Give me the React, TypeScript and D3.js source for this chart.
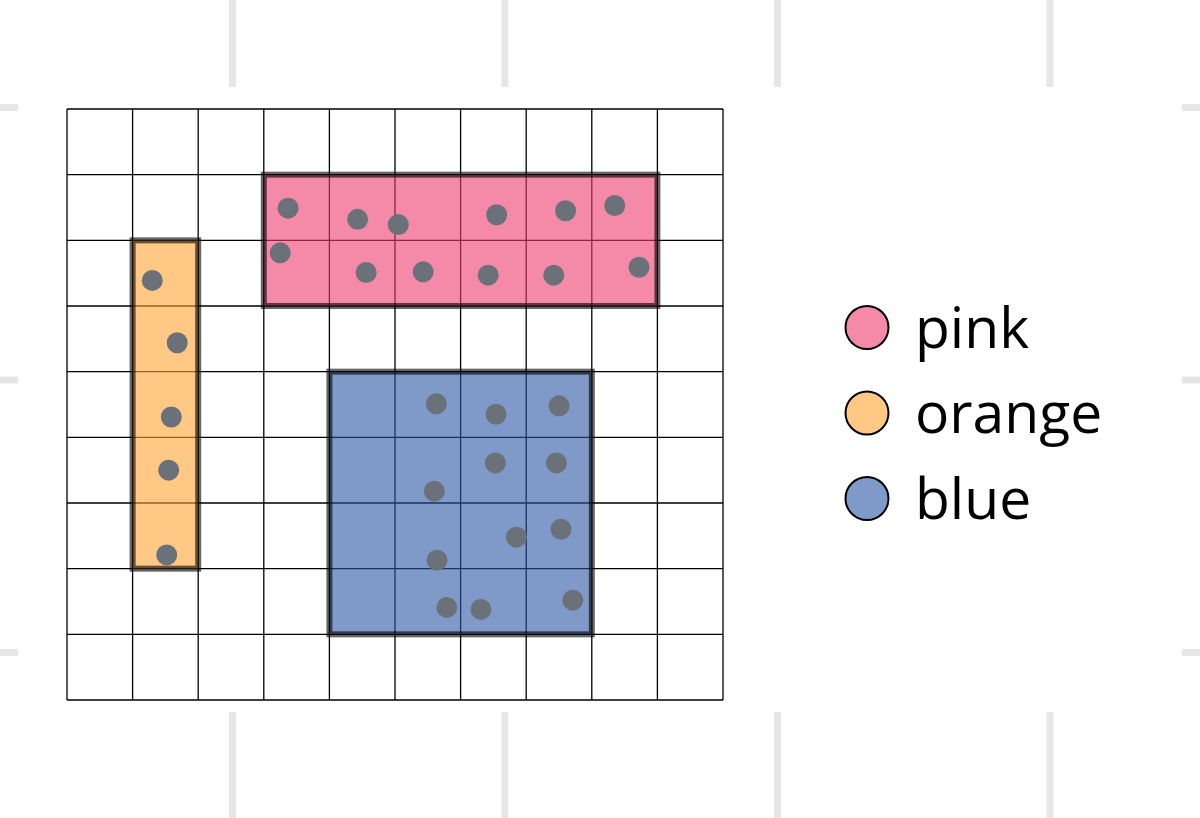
import React, { useEffect, useRef } from 'react';
import * as d3 from 'd3';

// grid size in cells
const gridCols = 10;
const gridRows = 9;

// groups: name, fill colour, and the cell span of each region [x0, x1, y0, y1]
const groupNames = ['pink', 'orange', 'blue'];
const groupColors = ['rgb(237,60,110)', 'rgb(255,163,52)', 'rgb(42,87,163)'];
const legendColors = ['#f48aa8', '#ffc885', '#7f9ac8'];
const groupSpans = [
    [3, 9, 1, 3],
    [1, 2, 2, 7],
    [4, 8, 4, 8],
];

// points per group, in grid units
const pinkX = [3.37, 4.43, 5.05, 6.55, 7.6, 8.35, 3.25, 4.56, 5.43, 6.42, 7.42, 8.72];
const pinkY = [1.51, 1.68, 1.76, 1.61, 1.55, 1.47, 2.19, 2.49, 2.48, 2.53, 2.53, 2.41];
const orangeX = [1.3, 1.68, 1.59, 1.55, 1.52];
const orangeY = [2.61, 3.56, 4.69, 5.5, 6.79];
const blueX = [5.63, 6.54, 7.5, 6.53, 7.46, 5.6, 6.85, 7.53, 5.64, 5.79, 6.31, 7.71];
const blueY = [4.49, 4.65, 4.52, 5.39, 5.39, 5.82, 6.52, 6.4, 6.87, 7.59, 7.62, 7.48];

// faint frame ticks around the page
const frameTicksX = [0, 1, 2, 3];
const frameTicksY = [0, 1, 2];

const App = () => {
    const svgRef = useRef<SVGSVGElement>(null);

    useEffect(() => {
        const W = 1200;
        const H = 818;
        const svg = d3.select(svgRef.current).attr('width', W).attr('height', H);
        svg.selectAll('*').remove();

        // frame ticks
        const fx = d3.scaleLinear().domain([0, 3]).range([232.5, 1050]);
        const fy = d3.scaleLinear().domain([0, 2]).range([107.5, 652.5]);
        const frame = svg.append('g').attr('stroke', '#e6e6e6').attr('stroke-width', 7);
        frameTicksX.forEach(t => {
            frame.append('line').attr('x1', fx(t)).attr('x2', fx(t)).attr('y1', 0).attr('y2', 87);
            frame.append('line').attr('x1', fx(t)).attr('x2', fx(t)).attr('y1', 712).attr('y2', H);
        });
        frameTicksY.forEach(t => {
            frame.append('line').attr('y1', fy(t)).attr('y2', fy(t)).attr('x1', 0).attr('x2', 18);
            frame.append('line').attr('y1', fy(t)).attr('y2', fy(t)).attr('x1', 1182).attr('x2', W);
        });

        const x = d3.scaleLinear().domain([0, gridCols]).range([67, 723]);
        const y = d3.scaleLinear().domain([0, gridRows]).range([109, 700]);

        // grid lines
        const grid = svg.append('g').attr('stroke', '#000').attr('stroke-width', 1.3);
        d3.range(gridCols + 1).forEach(i => {
            grid.append('line').attr('x1', x(i)).attr('x2', x(i)).attr('y1', y(0)).attr('y2', y(gridRows));
        });
        d3.range(gridRows + 1).forEach(j => {
            grid.append('line').attr('y1', y(j)).attr('y2', y(j)).attr('x1', x(0)).attr('x2', x(gridCols));
        });

        // regions
        groupSpans.forEach((s, i) => {
            svg.append('rect')
                .attr('x', x(s[0]))
                .attr('y', y(s[2]))
                .attr('width', x(s[1]) - x(s[0]))
                .attr('height', y(s[3]) - y(s[2]))
                .attr('fill', groupColors[i])
                .attr('fill-opacity', 0.6)
                .attr('stroke', 'rgba(0,0,0,0.6)')
                .attr('stroke-width', 6);
        });

        // points
        const pts = [
            d3.zip(pinkX, pinkY),
            d3.zip(orangeX, orangeY),
            d3.zip(blueX, blueY),
        ].flat();
        svg.append('g')
            .selectAll('circle')
            .data(pts)
            .enter()
            .append('circle')
            .attr('cx', d => x(d[0]))
            .attr('cy', d => y(d[1]))
            .attr('r', 10.5)
            .attr('fill', '#6b7178');

        // legend
        const ly = d3.scalePoint().domain(groupNames).range([327.5, 498.5]);
        const legend = svg.append('g');
        groupNames.forEach((n, i) => {
            legend.append('circle')
                .attr('cx', 867)
                .attr('cy', ly(n))
                .attr('r', 21.5)
                .attr('fill', legendColors[i])
                .attr('stroke', '#000')
                .attr('stroke-width', 2);
            legend.append('text')
                .attr('x', 915)
                .attr('y', (ly(n) as number) + 20)
                .attr('font-family', '"Open Sans", sans-serif')
                .attr('font-size', 57)
                .attr('fill', '#000')
                .text(n);
        });
    }, []);

    return <svg ref={svgRef} style={{ position: 'absolute', left: 0, top: 0 }}></svg>;
};

export default App;
